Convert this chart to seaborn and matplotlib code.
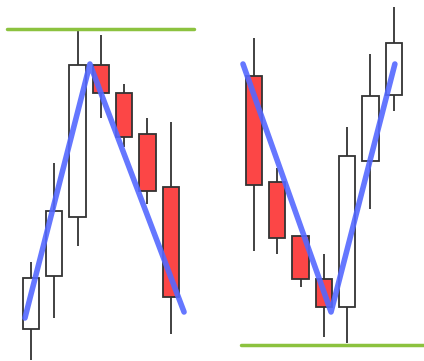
import numpy as np
import matplotlib
matplotlib.use("Agg")
import matplotlib.pyplot as plt
import seaborn as sns

# candle values (arbitrary price units)
# left group: rally then decline (top)
left_open = [3.2, 8.5, 14.4, 29.6, 26.8, 22.7, 17.4]
left_close = [8.3, 15.0, 29.6, 26.8, 22.4, 17.0, 6.4]
left_high = [9.9, 19.8, 33.1, 32.6, 27.7, 24.3, 23.9]
left_low = [0.1, 4.3, 11.5, 24.3, 21.4, 15.7, 2.7]

# right group: decline then rally (bottom)
right_open = [28.5, 17.9, 12.5, 8.2, 5.4, 20.0, 26.6]
right_close = [17.6, 12.3, 8.2, 5.4, 20.5, 26.5, 31.8]
right_high = [32.3, 19.3, 12.5, 10.7, 23.4, 30.7, 35.4]
right_low = [11.0, 10.7, 7.4, 2.4, 1.8, 15.2, 25.0]

# pattern lines drawn over the candles
left_line_x = [-0.26, 2.53, 6.57]
left_line_y = [4.3, 29.7, 4.9]
right_line_x = [9.10, 12.88, 15.62]
right_line_y = [29.7, 4.9, 29.7]

# support / resistance levels
top_level = 33.2
bottom_level = 1.6

sns.set_style("white")

fig = plt.figure(figsize=(4.24, 3.61), dpi=100)
ax = fig.add_axes([0, 0, 1, 1])

red = "#fc4646"
edge = "#333333"
offset = 9.57


def draw_candles(x0, o, c, h, l):
    x = x0 + np.arange(len(o))
    o = np.array(o)
    c = np.array(c)
    ax.vlines(x, l, h, color=edge, lw=1.3, zorder=1)
    up = c >= o
    colors = np.where(up, "white", red)
    ax.bar(x, np.abs(c - o), bottom=np.minimum(o, c), width=0.7,
           color=colors, edgecolor=edge, linewidth=1.3, zorder=2)


draw_candles(0, left_open, left_close, left_high, left_low)
draw_candles(offset, right_open, right_close, right_high, right_low)

ax.plot([-1.03, 7.0], [top_level, top_level], color="#8cc23f", lw=2.5, zorder=3)
ax.plot([9.0, 16.9], [bottom_level, bottom_level], color="#8cc23f", lw=2.5, zorder=3)

sns.lineplot(x=left_line_x, y=left_line_y, ax=ax, color="#5468ff", lw=4,
             alpha=0.9, sort=False, zorder=4)
sns.lineplot(x=right_line_x, y=right_line_y, ax=ax, color="#5468ff", lw=4,
             alpha=0.9, sort=False, zorder=4)

ax.set_xlim(-1.33, 16.87)
ax.set_ylim(0, 36.1)
ax.axis("off")

fig.savefig("out.png", dpi=100)
